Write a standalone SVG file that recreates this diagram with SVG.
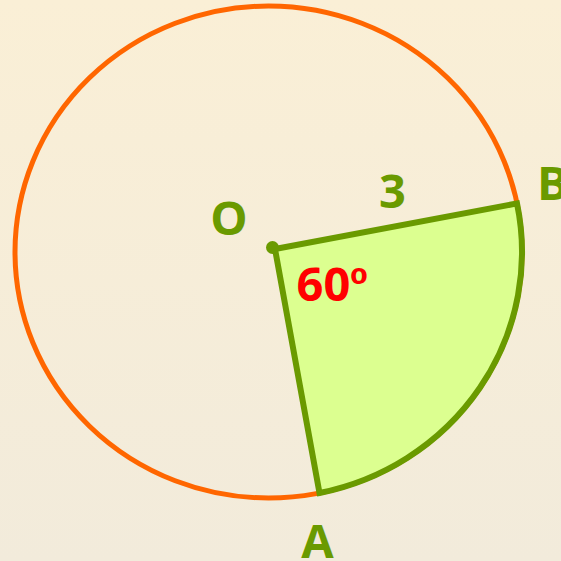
<svg xmlns="http://www.w3.org/2000/svg" width="561" height="561" viewBox="0 0 561 561">
<defs>
<linearGradient id="bg" x1="0" y1="0" x2="0" y2="1">
<stop offset="0" stop-color="#faefd6"/>
<stop offset="1" stop-color="#f2ebdb"/>
</linearGradient>
<style>
.lbl{font-family:"Open Sans","Noto Sans",sans-serif;font-weight:bold;font-size:47px;fill:#6a9a00;text-anchor:middle}
.ang{fill:#ff0000}
.ord{font-family:"Liberation Sans",Arial,sans-serif}
</style>
</defs>
<rect width="561" height="561" fill="url(#bg)"/>
<g id="circle">
<ellipse cx="268.5" cy="252" rx="253.5" ry="246" fill="none" stroke="#ff6600" stroke-width="5"/>
</g>
<g id="sector">
<path d="M275 249 L517 203.4 A253.5 246 0 0 1 319.5 493 Z" fill="#dcff90" stroke="#6a9a00" stroke-width="6" stroke-linejoin="miter"/>
<circle cx="272.5" cy="247.5" r="6.5" fill="#6a9a00"/>
</g>
<g id="labels">
<text class="lbl" x="229" y="235">O</text>
<text class="lbl" x="392.5" y="208">3</text>
<text class="lbl ang" x="332" y="301">60<tspan class="ord">º</tspan></text>
<text class="lbl" x="537" y="200" style="text-anchor:start">B</text>
<text class="lbl" x="317.5" y="558">A</text>
</g>
</svg>
